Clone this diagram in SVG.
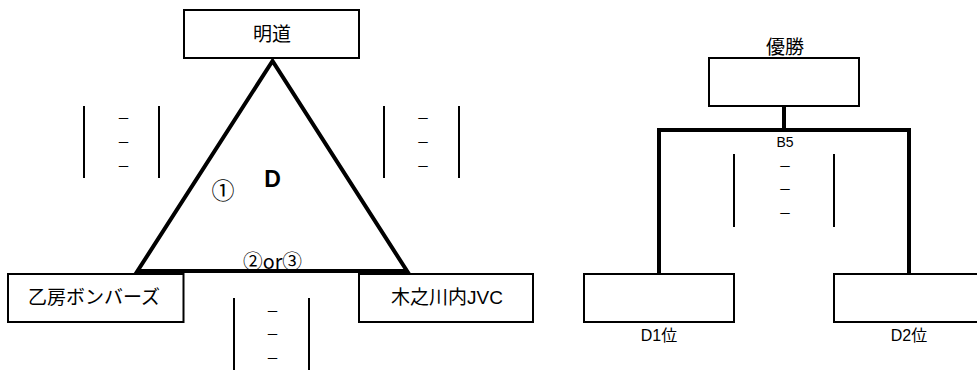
<svg xmlns="http://www.w3.org/2000/svg" width="977" height="370" viewBox="0 0 977 370">
<style>
.box{fill:#fff;stroke:#000;stroke-width:2}
.thick{fill:none;stroke:#000;stroke-width:4;stroke-linecap:square}
.bar{stroke:#000;stroke-width:2}
.t{font-family:"Liberation Sans","Noto Sans CJK JP",sans-serif;fill:#000}
.c{font-family:"Noto Sans CJK JP",sans-serif;fill:#000}
.j{font-size:19px}
.dash{font-family:"Noto Sans CJK JP",sans-serif;font-size:13px;text-anchor:middle;fill:#000}
</style>
<rect width="977" height="370" fill="#fff"/>
<g id="connectors">
<polygon points="272.5,61 137.5,271 407,271" fill="none" stroke="#000" stroke-width="4" stroke-linejoin="miter"/>
<path class="thick" d="M784,107 V130 M659,274 V130 H909 V274"/>
</g>
<g id="node-meido">
<rect class="box" x="184" y="10" width="175" height="48"/>
<text class="t j" x="272" y="41" text-anchor="middle">明道</text>
</g>
<g id="node-otofusa">
<rect class="box" x="8" y="274" width="175.5" height="48"/>
<text class="t j" x="28" y="304">乙房ボンバーズ</text>
</g>
<g id="node-kinokawachi">
<rect class="box" x="359" y="274" width="174" height="48"/>
<text class="t j" x="447" y="304" text-anchor="middle">木之川内JVC</text>
</g>
<g id="node-d-label">
<text class="t" x="272.5" y="187" text-anchor="middle" font-size="23" font-weight="bold">D</text>
<text class="c" x="223" y="199" text-anchor="middle" font-size="23">①</text>
<text class="c" x="272.5" y="269" text-anchor="middle" font-size="20" textLength="59" lengthAdjust="spacingAndGlyphs">②or③</text>
</g>
<g id="bracket-left">
<line class="bar" x1="84" y1="106" x2="84" y2="178"/>
<line class="bar" x1="159" y1="106" x2="159" y2="178"/>
<text class="dash" x="123.5" y="123">－</text>
<text class="dash" x="123.5" y="147">－</text>
<text class="dash" x="123.5" y="171">－</text>
</g>
<g id="bracket-right">
<line class="bar" x1="384" y1="106" x2="384" y2="178"/>
<line class="bar" x1="459" y1="106" x2="459" y2="178"/>
<text class="dash" x="423" y="123">－</text>
<text class="dash" x="423" y="147">－</text>
<text class="dash" x="423" y="171">－</text>
</g>
<g id="bracket-bottom">
<line class="bar" x1="234" y1="298" x2="234" y2="370"/>
<line class="bar" x1="309" y1="298" x2="309" y2="370"/>
<text class="dash" x="272.5" y="316">－</text>
<text class="dash" x="272.5" y="339">－</text>
<text class="dash" x="272.5" y="363">－</text>
</g>
<g id="node-yusho">
<text class="t j" x="785" y="54" text-anchor="middle">優勝</text>
<rect class="box" x="709" y="58" width="150" height="48"/>
</g>
<g id="label-b5">
<text class="t" x="785" y="147" text-anchor="middle" font-size="14">B5</text>
</g>
<g id="bracket-center">
<line class="bar" x1="734" y1="154" x2="734" y2="227"/>
<line class="bar" x1="834" y1="154" x2="834" y2="227"/>
<text class="dash" x="785" y="171">－</text>
<text class="dash" x="785" y="194">－</text>
<text class="dash" x="785" y="218">－</text>
</g>
<g id="node-d1">
<rect class="box" x="584" y="274" width="150" height="48"/>
<text class="t" x="659" y="341" text-anchor="middle" font-size="16">D1位</text>
</g>
<g id="node-d2">
<rect class="box" x="834" y="274" width="150" height="48"/>
<text class="t" x="909" y="341" text-anchor="middle" font-size="16">D2位</text>
</g>
</svg>
